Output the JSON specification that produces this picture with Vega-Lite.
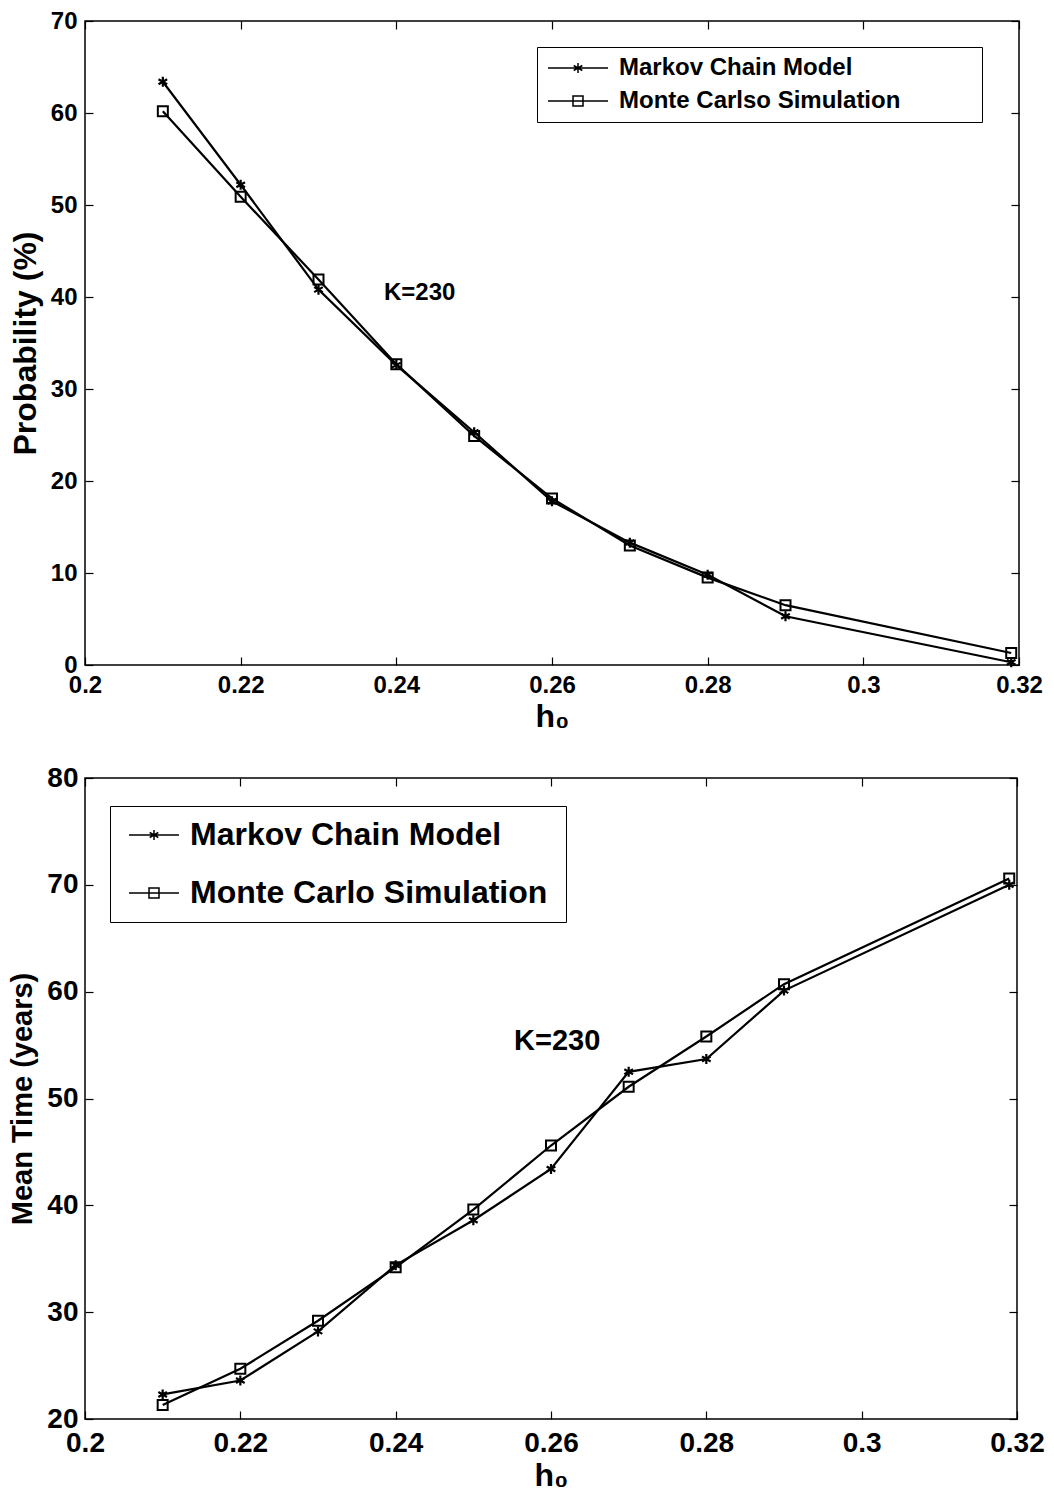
{
  "$schema": "https://vega.github.io/schema/vega-lite/v6.json",
  "background": "white",
  "padding": {"left": 8, "top": 8, "right": 10, "bottom": 5},
  "spacing": 30,
  "datasets": {
    "prob": [
      {"h": 0.21, "v": 63.4, "s": "Markov Chain Model"},
      {"h": 0.22, "v": 52.2, "s": "Markov Chain Model"},
      {"h": 0.23, "v": 40.8, "s": "Markov Chain Model"},
      {"h": 0.24, "v": 32.6, "s": "Markov Chain Model"},
      {"h": 0.25, "v": 25.3, "s": "Markov Chain Model"},
      {"h": 0.26, "v": 17.8, "s": "Markov Chain Model"},
      {"h": 0.27, "v": 13.3, "s": "Markov Chain Model"},
      {"h": 0.28, "v": 9.8, "s": "Markov Chain Model"},
      {"h": 0.29, "v": 5.3, "s": "Markov Chain Model"},
      {"h": 0.319, "v": 0.3, "s": "Markov Chain Model"},
      {"h": 0.21, "v": 60.2, "s": "Monte Carlso Simulation"},
      {"h": 0.22, "v": 50.9, "s": "Monte Carlso Simulation"},
      {"h": 0.23, "v": 41.9, "s": "Monte Carlso Simulation"},
      {"h": 0.24, "v": 32.7, "s": "Monte Carlso Simulation"},
      {"h": 0.25, "v": 24.9, "s": "Monte Carlso Simulation"},
      {"h": 0.26, "v": 18.1, "s": "Monte Carlso Simulation"},
      {"h": 0.27, "v": 13.0, "s": "Monte Carlso Simulation"},
      {"h": 0.28, "v": 9.5, "s": "Monte Carlso Simulation"},
      {"h": 0.29, "v": 6.5, "s": "Monte Carlso Simulation"},
      {"h": 0.319, "v": 1.3, "s": "Monte Carlso Simulation"}
    ],
    "time": [
      {"h": 0.21, "v": 22.3, "s": "Markov Chain Model"},
      {"h": 0.22, "v": 23.6, "s": "Markov Chain Model"},
      {"h": 0.23, "v": 28.2, "s": "Markov Chain Model"},
      {"h": 0.24, "v": 34.4, "s": "Markov Chain Model"},
      {"h": 0.25, "v": 38.6, "s": "Markov Chain Model"},
      {"h": 0.26, "v": 43.4, "s": "Markov Chain Model"},
      {"h": 0.27, "v": 52.5, "s": "Markov Chain Model"},
      {"h": 0.28, "v": 53.7, "s": "Markov Chain Model"},
      {"h": 0.29, "v": 60.1, "s": "Markov Chain Model"},
      {"h": 0.319, "v": 70.0, "s": "Markov Chain Model"},
      {"h": 0.21, "v": 21.3, "s": "Monte Carlo Simulation"},
      {"h": 0.22, "v": 24.7, "s": "Monte Carlo Simulation"},
      {"h": 0.23, "v": 29.2, "s": "Monte Carlo Simulation"},
      {"h": 0.24, "v": 34.2, "s": "Monte Carlo Simulation"},
      {"h": 0.25, "v": 39.6, "s": "Monte Carlo Simulation"},
      {"h": 0.26, "v": 45.6, "s": "Monte Carlo Simulation"},
      {"h": 0.27, "v": 51.1, "s": "Monte Carlo Simulation"},
      {"h": 0.28, "v": 55.8, "s": "Monte Carlo Simulation"},
      {"h": 0.29, "v": 60.7, "s": "Monte Carlo Simulation"},
      {"h": 0.319, "v": 70.6, "s": "Monte Carlo Simulation"}
    ]
  },
  "config": {
    "font": "Liberation Sans",
    "view": {"stroke": "black", "strokeWidth": 1.5},
    "axis": {
      "grid": false, "domain": false, "tickColor": "black", "tickSize": -8, "tickWidth": 1.2,
      "labelColor": "black", "labelFontWeight": "bold", "titleFontWeight": "bold", "titleColor": "black",
      "labelFlush": false, "labelOverlap": false, "labelFont": "Liberation Sans", "titleFont": "Liberation Sans"
    }
  },
  "resolve": {"scale": {"shape": "independent"}, "legend": {"shape": "independent"}},
  "vconcat": [
    {
      "width": 934, "height": 644,
      "data": {"name": "prob"},
      "resolve": {"axis": {"x": "independent", "y": "independent"}},
      "layer": [
        {
          "mark": {"type": "line", "color": "black", "strokeWidth": 2.2},
          "encoding": {
            "x": {"field": "h", "type": "quantitative", "scale": {"domain": [0.2, 0.32], "nice": false},
              "axis": {"orient": "bottom", "values": [0.2, 0.22, 0.24, 0.26, 0.28, 0.3, 0.32], "format": "~g", "title": "h₀",
                "labelFontSize": 24, "titleFontSize": 32, "labelPadding": 16, "titlePadding": 4}},
            "y": {"field": "v", "type": "quantitative", "scale": {"domain": [0, 70], "nice": false},
              "axis": {"orient": "left", "values": [0, 10, 20, 30, 40, 50, 60, 70], "title": "Probability (%)",
                "labelFontSize": 24, "titleFontSize": 32, "labelPadding": 16, "titlePadding": 8}},
            "detail": {"field": "s"}
          }
        },
        {
          "transform": [{"filter": "datum.s === 'Markov Chain Model'"}],
          "mark": {"type": "point", "shape": "M0,-1V1M-0.866,-0.5L0.866,0.5M-0.866,0.5L0.866,-0.5", "size": 100, "stroke": "black", "strokeWidth": 2.2, "filled": false, "opacity": 1},
          "encoding": {
            "x": {"field": "h", "type": "quantitative", "axis": {"orient": "top", "labels": false, "title": null, "values": [0.2, 0.22, 0.24, 0.26, 0.28, 0.3, 0.32]}},
            "y": {"field": "v", "type": "quantitative", "axis": {"orient": "right", "labels": false, "title": null, "values": [0, 10, 20, 30, 40, 50, 60, 70]}}
          }
        },
        {
          "transform": [{"filter": "datum.s === 'Monte Carlso Simulation'"}],
          "mark": {"type": "point", "shape": "square", "size": 100, "stroke": "black", "strokeWidth": 2, "filled": false, "opacity": 1},
          "encoding": {
            "x": {"field": "h", "type": "quantitative", "axis": null},
            "y": {"field": "v", "type": "quantitative", "axis": null}
          }
        },
        {
          "transform": [{"filter": "false"}],
          "mark": {"type": "point", "filled": false, "stroke": "black", "strokeWidth": 1.5, "opacity": 1},
          "encoding": {
            "x": {"field": "h", "type": "quantitative", "axis": null},
            "y": {"field": "v", "type": "quantitative", "axis": null},
            "shape": {"field": "s", "type": "nominal",
              "scale": {"domain": ["Markov Chain Model", "Monte Carlso Simulation"],
                "range": ["M-1,0H5M2,-0.5V0.5M1.567,-0.25L2.433,0.25M1.567,0.25L2.433,-0.25", "M-1,0H5M1.5,-0.5H2.5V0.5H1.5Z"]},
              "legend": {"orient": "none", "legendX": 452, "legendY": 26, "title": " ", "titleOrient": "right", "titlePadding": 73, "titleFontSize": 8,
                "strokeColor": "black", "fillColor": "white", "padding": 9, "rowPadding": 9,
                "labelFontSize": 24, "labelFontWeight": "bold", "labelColor": "black", "labelFont": "Liberation Sans", "labelLimit": 1000,
                "symbolSize": 400, "symbolStrokeWidth": 1.5, "symbolStrokeColor": "black", "symbolFillColor": "transparent", "labelOffset": 49}}
          }
        },
        {
          "data": {"values": [{"h": 0.243, "v": 40.4, "t": "K=230"}]},
          "mark": {"type": "text", "fontSize": 24, "fontWeight": "bold", "font": "Liberation Sans", "color": "black", "align": "center", "baseline": "middle"},
          "encoding": {
            "x": {"field": "h", "type": "quantitative", "axis": null},
            "y": {"field": "v", "type": "quantitative", "axis": null},
            "text": {"field": "t"}
          }
        }
      ]
    },
    {
      "width": 932, "height": 641,
      "data": {"name": "time"},
      "resolve": {"axis": {"x": "independent", "y": "independent"}},
      "layer": [
        {
          "mark": {"type": "line", "color": "black", "strokeWidth": 2.2},
          "encoding": {
            "x": {"field": "h", "type": "quantitative", "scale": {"domain": [0.2, 0.32], "nice": false},
              "axis": {"orient": "bottom", "values": [0.2, 0.22, 0.24, 0.26, 0.28, 0.3, 0.32], "format": "~g", "title": "h₀",
                "labelFontSize": 28, "titleFontSize": 32, "labelPadding": 18, "titlePadding": 3}},
            "y": {"field": "v", "type": "quantitative", "scale": {"domain": [20, 80], "nice": false},
              "axis": {"orient": "left", "values": [20, 30, 40, 50, 60, 70, 80], "title": "Mean Time (years)",
                "labelFontSize": 28, "titleFontSize": 29, "labelPadding": 15, "titlePadding": 9}},
            "detail": {"field": "s"}
          }
        },
        {
          "transform": [{"filter": "datum.s === 'Markov Chain Model'"}],
          "mark": {"type": "point", "shape": "M0,-1V1M-0.866,-0.5L0.866,0.5M-0.866,0.5L0.866,-0.5", "size": 100, "stroke": "black", "strokeWidth": 2.2, "filled": false, "opacity": 1},
          "encoding": {
            "x": {"field": "h", "type": "quantitative", "axis": {"orient": "top", "labels": false, "title": null, "values": [0.2, 0.22, 0.24, 0.26, 0.28, 0.3, 0.32]}},
            "y": {"field": "v", "type": "quantitative", "axis": {"orient": "right", "labels": false, "title": null, "values": [20, 30, 40, 50, 60, 70, 80]}}
          }
        },
        {
          "transform": [{"filter": "datum.s === 'Monte Carlo Simulation'"}],
          "mark": {"type": "point", "shape": "square", "size": 100, "stroke": "black", "strokeWidth": 2, "filled": false, "opacity": 1},
          "encoding": {
            "x": {"field": "h", "type": "quantitative", "axis": null},
            "y": {"field": "v", "type": "quantitative", "axis": null}
          }
        },
        {
          "transform": [{"filter": "false"}],
          "mark": {"type": "point", "filled": false, "stroke": "black", "strokeWidth": 1.5, "opacity": 1},
          "encoding": {
            "x": {"field": "h", "type": "quantitative", "axis": null},
            "y": {"field": "v", "type": "quantitative", "axis": null},
            "shape": {"field": "s", "type": "nominal",
              "scale": {"domain": ["Markov Chain Model", "Monte Carlo Simulation"],
                "range": ["M-1,0H4M1.5,-0.5V0.5M1.067,-0.25L1.933,0.25M1.067,0.25L1.933,-0.25", "M-1,0H4M1,-0.5H2V0.5H1Z"]},
              "legend": {"orient": "none", "legendX": 25, "legendY": 28, "title": " ", "titleOrient": "right", "titlePadding": 6, "titleFontSize": 8,
                "strokeColor": "black", "fillColor": "white", "padding": 13, "rowPadding": 26,
                "labelFontSize": 32, "labelFontWeight": "bold", "labelColor": "black", "labelFont": "Liberation Sans", "labelLimit": 1000,
                "symbolSize": 400, "symbolStrokeWidth": 1.5, "symbolStrokeColor": "black", "symbolFillColor": "transparent", "labelOffset": 35}}
          }
        },
        {
          "data": {"values": [{"h": 0.2608, "v": 55.4, "t": "K=230"}]},
          "mark": {"type": "text", "fontSize": 29, "fontWeight": "bold", "font": "Liberation Sans", "color": "black", "align": "center", "baseline": "middle"},
          "encoding": {
            "x": {"field": "h", "type": "quantitative", "axis": null},
            "y": {"field": "v", "type": "quantitative", "axis": null},
            "text": {"field": "t"}
          }
        }
      ]
    }
  ]
}
